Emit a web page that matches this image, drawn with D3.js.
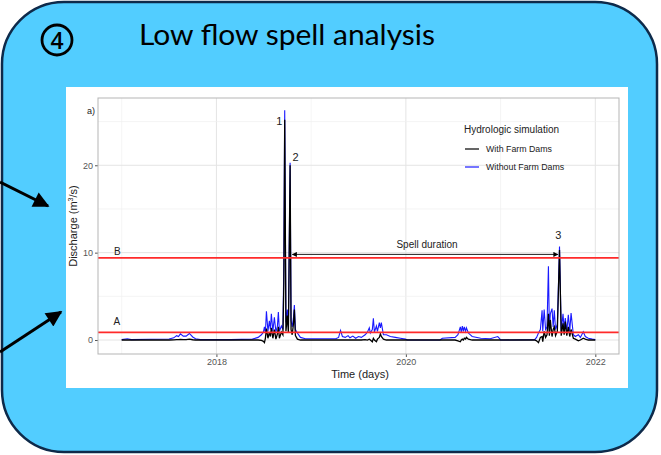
<!DOCTYPE html>
<html>
<head>
<meta charset="utf-8">
<script src="https://cdn.jsdelivr.net/npm/d3@7"></script>
<style>
  body { margin: 0; background: #fff; }
  svg text { font-family: "Liberation Sans", Arial, sans-serif; }
</style>
</head>
<body>
<svg width="661" height="455"></svg>
<script>
// decimal years
var years = [
    2017.00, 2017.06, 2017.10, 2017.30, 2017.50, 2017.55, 2017.58, 2017.60, 2017.62, 2017.65,
    2017.68, 2017.715, 2017.75, 2017.78, 2017.83, 2018.15, 2018.38, 2018.44, 2018.475, 2018.496,
    2018.507, 2018.517, 2018.528, 2018.544, 2018.559, 2018.570, 2018.580, 2018.596, 2018.612, 2018.628,
    2018.644, 2018.654, 2018.665, 2018.686, 2018.702, 2018.712, 2018.721, 2018.734, 2018.749, 2018.760,
    2018.778, 2018.788, 2018.800, 2018.813, 2018.823, 2018.834, 2018.855, 2018.887, 2018.939, 2019.10,
    2019.26, 2019.29, 2019.31, 2019.33, 2019.36, 2019.39, 2019.41, 2019.44, 2019.47, 2019.50,
    2019.53, 2019.57, 2019.594, 2019.614, 2019.625, 2019.646, 2019.657, 2019.668, 2019.689, 2019.700,
    2019.720, 2019.731, 2019.741, 2019.763, 2019.794, 2019.836, 2019.889, 2019.942, 2019.995, 2020.016,
    2020.36, 2020.385, 2020.52, 2020.55, 2020.575, 2020.585, 2020.596, 2020.607, 2020.617, 2020.630,
    2020.639, 2020.660, 2020.70, 2020.79, 2020.89, 2020.97, 2020.99, 2021.00, 2021.36, 2021.38,
    2021.40, 2021.42, 2021.438, 2021.445, 2021.460, 2021.475, 2021.490, 2021.505, 2021.515, 2021.525,
    2021.543, 2021.555, 2021.567, 2021.580, 2021.599, 2021.622, 2021.640, 2021.659, 2021.671, 2021.683,
    2021.699, 2021.715, 2021.730, 2021.744, 2021.768, 2021.789, 2021.821, 2021.842, 2021.873, 2021.894,
    2021.926, 2021.968, 2022.00
];

// discharge (m3/s) with farm dams
var withDams = [
    0.00, 0.00, 0.00, 0.00, 0.00, 0.02, 0.05, 0.05, 0.08, 0.05,
    0.05, 0.10, 0.03, 0.00, 0.00, 0.00, 0.00, 0.00, -0.05, -0.15,
    -0.30, 0.20, 1.30, 0.20, 0.90, 0.40, 1.40, 0.20, 1.20, 0.10,
    0.70, 1.50, 0.20, 0.90, 0.60, 6.50, 25.2, 1.00, 2.80, 0.80,
    20.0, 1.20, 0.60, 1.80, 3.50, 0.50, 0.10, 0.00, 0.00, 0.00,
    0.00, 0.00, 0.00, 0.00, 0.00, 0.00, 0.00, 0.00, 0.00, 0.00,
    0.00, 0.05, 0.00, 0.10, 0.00, -0.20, 0.20, 0.00, -0.20, 0.10,
    0.30, 0.70, 0.40, 0.10, 0.00, 0.00, 0.00, 0.00, 0.00, 0.00,
    0.00, 0.00, 0.00, -0.10, -0.20, 0.00, 0.10, 0.00, 0.20, 0.10,
    0.30, 0.10, 0.00, 0.00, 0.00, 0.00, 0.00, 0.00, 0.00, -0.10,
    -0.30, 0.30, 0.40, -0.20, 1.00, 0.30, 0.60, 3.00, 0.50, 2.30,
    0.40, 1.20, 1.50, 0.50, 1.00, 10.3, 0.50, 1.90, 0.60, 2.10,
    0.50, 1.50, 0.40, 1.20, 0.20, 0.10, -0.10, 0.00, 0.20, 0.10,
    0.00, 0.00, 0.00
];

// discharge (m3/s) without farm dams
var withoutDams = [
    0.05, 0.15, 0.05, 0.08, 0.12, 0.25, 0.50, 0.40, 0.70, 0.45,
    0.45, 0.75, 0.35, 0.15, 0.05, 0.05, 0.10, 0.30, 0.60, 0.90,
    1.50, 0.80, 3.30, 1.00, 2.20, 1.20, 3.00, 1.00, 2.60, 0.90,
    1.60, 3.20, 1.00, 1.60, 1.20, 8.90, 26.3, 2.00, 3.50, 1.50,
    20.3, 2.20, 1.50, 2.50, 4.00, 1.20, 0.80, 0.30, 0.15, 0.15,
    0.15, 0.30, 1.10, 0.40, 0.30, 0.50, 0.25, 0.45, 0.20, 0.40,
    0.30, 0.60, 0.90, 1.40, 0.80, 1.20, 2.50, 0.90, 1.60, 1.00,
    2.00, 1.40, 2.00, 0.60, 0.60, 0.40, 0.30, 0.20, 0.10, 0.00,
    0.00, 0.20, 0.30, 0.60, 1.50, 0.90, 1.60, 1.00, 1.50, 1.00,
    1.40, 0.80, 0.40, 0.20, 0.15, 0.40, 0.15, 0.00, 0.05, 0.30,
    0.80, 1.20, 3.40, 1.00, 3.50, 1.20, 1.50, 8.45, 1.00, 3.00,
    3.60, 1.50, 3.40, 1.20, 1.80, 10.7, 1.00, 3.00, 1.20, 2.50,
    1.00, 2.90, 1.00, 3.10, 0.60, 0.40, 0.60, 0.30, 0.95, 0.40,
    0.20, 0.10, 0.05
];

var thresholdA = 0.88,
    thresholdB = 9.4;

var xTicks = [2018, 2020, 2022],
    xMinor = [2017, 2019, 2021],
    yTicks = [0, 10, 20],
    yMinor = [5, 15, 25];

var peakLabels = [
    {text: "1", year: 2018.665, q: 25.1},
    {text: "2", year: 2018.836, q: 20.9},
    {text: "3", year: 2021.610, q: 12.0}
];

var spell = {start: 2018.802, end: 2021.605, q: 9.8};

var legendItems = [
    {name: "With Farm Dams", color: "#000"},
    {name: "Without Farm Dams", color: "#1a1aff"}
];

var svg = d3.select("svg");

// slide background
svg.append("rect")
    .attr("x", 2).attr("y", 2)
    .attr("width", 655).attr("height", 450)
    .attr("rx", 62).attr("ry", 62)
    .attr("fill", "#52cdff")
    .attr("stroke", "#0e2a4a")
    .attr("stroke-width", 2.5);

svg.append("circle")
    .attr("cx", 57).attr("cy", 40).attr("r", 15)
    .attr("fill", "none").attr("stroke", "#000").attr("stroke-width", 2.8);
svg.append("text")
    .attr("x", 57).attr("y", 48.5)
    .attr("text-anchor", "middle")
    .style("font-family", "'Open Sans', Lato, sans-serif")
    .style("font-size", "23px")
    .style("font-weight", "600")
    .text("4");

svg.append("text")
    .attr("x", 139).attr("y", 45)
    .attr("textLength", 296)
    .attr("lengthAdjust", "spacingAndGlyphs")
    .style("font-family", "Lato, 'Open Sans', sans-serif")
    .style("font-size", "28px")
    .attr("fill", "#000")
    .text("Low flow spell analysis");

// pointer arrows
var defs = svg.append("defs");
defs.append("marker")
    .attr("id", "bigHead")
    .attr("viewBox", "0 0 10 10")
    .attr("refX", 9).attr("refY", 5)
    .attr("markerUnits", "userSpaceOnUse")
    .attr("markerWidth", 18).attr("markerHeight", 16)
    .attr("orient", "auto")
    .append("path").attr("d", "M0,0L10,5L0,10Z").attr("fill", "#000");
defs.append("marker")
    .attr("id", "smallHead")
    .attr("viewBox", "0 0 10 10")
    .attr("refX", 9).attr("refY", 5)
    .attr("markerUnits", "userSpaceOnUse")
    .attr("markerWidth", 6).attr("markerHeight", 5)
    .attr("orient", "auto-start-reverse")
    .append("path").attr("d", "M0,0L10,5L0,10Z").attr("fill", "#000");

[[[0, 182], [48, 206]], [[0, 352], [61, 312]]].forEach(function(a) {
    svg.append("line")
        .attr("x1", a[0][0]).attr("y1", a[0][1])
        .attr("x2", a[1][0]).attr("y2", a[1][1])
        .attr("stroke", "#000").attr("stroke-width", 3)
        .attr("marker-end", "url(#bigHead)");
});

// white figure panel
svg.append("rect")
    .attr("x", 66).attr("y", 87)
    .attr("width", 562).attr("height", 301)
    .attr("fill", "#fff");

var x = d3.scaleLinear().domain([2016.75, 2022.25]).range([98, 619]),
    y = d3.scaleLinear().domain([-1.6, 27.7]).range([354, 98]);

var g = svg.append("g");

g.selectAll(".vgrid").data(xMinor.concat(xTicks)).enter().append("line")
    .attr("x1", function(d) { return x(d); }).attr("x2", function(d) { return x(d); })
    .attr("y1", y.range()[0]).attr("y2", y.range()[1])
    .attr("stroke", function(d) { return xTicks.indexOf(d) >= 0 ? "#e4e4e4" : "#f1f1f1"; })
    .attr("stroke-width", function(d) { return xTicks.indexOf(d) >= 0 ? 1 : 0.7; });

g.selectAll(".hgrid").data(yMinor.concat(yTicks)).enter().append("line")
    .attr("x1", x.range()[0]).attr("x2", x.range()[1])
    .attr("y1", function(d) { return y(d); }).attr("y2", function(d) { return y(d); })
    .attr("stroke", function(d) { return yTicks.indexOf(d) >= 0 ? "#e4e4e4" : "#f1f1f1"; })
    .attr("stroke-width", function(d) { return yTicks.indexOf(d) >= 0 ? 1 : 0.7; });

// axes
var xAxis = g.append("g")
    .attr("transform", "translate(0," + y.range()[0] + ")")
    .call(d3.axisBottom(x).tickValues(xTicks).tickFormat(d3.format("d")).tickSize(3).tickPadding(2));
var yAxis = g.append("g")
    .attr("transform", "translate(" + x.range()[0] + ",0)")
    .call(d3.axisLeft(y).tickValues(yTicks).tickSize(3).tickPadding(2));
[xAxis, yAxis].forEach(function(ax) {
    ax.select(".domain").remove();
    ax.selectAll("line").attr("stroke", "#555");
    ax.selectAll("text").attr("fill", "#555").style("font-size", "9px")
        .style("font-family", "'Liberation Sans', Arial, sans-serif");
});

var series = years.map(function(yr, i) {
    return {year: yr, withDams: withDams[i], withoutDams: withoutDams[i]};
});

var lineWithout = d3.line()
    .x(function(d) { return x(d.year); })
    .y(function(d) { return y(d.withoutDams); });
var lineWith = d3.line()
    .x(function(d) { return x(d.year); })
    .y(function(d) { return y(d.withDams); });

g.append("path").datum(series)
    .attr("d", lineWithout)
    .attr("fill", "none").attr("stroke", "#1a1aff").attr("stroke-width", 1.1);
g.append("path").datum(series)
    .attr("d", lineWith)
    .attr("fill", "none").attr("stroke", "#000").attr("stroke-width", 1.3);

// thresholds
g.selectAll(".thr").data([thresholdA, thresholdB]).enter().append("line")
    .attr("x1", x.range()[0]).attr("x2", x.range()[1])
    .attr("y1", function(d) { return y(d); }).attr("y2", function(d) { return y(d); })
    .attr("stroke", "#ff2a2a").attr("stroke-width", 1.6);

g.append("text").attr("x", x(2016.95)).attr("y", y(thresholdA) - 7)
    .attr("text-anchor", "middle").style("font-size", "10px").attr("fill", "#222").text("A");
g.append("text").attr("x", x(2016.955)).attr("y", y(thresholdB) - 3)
    .attr("text-anchor", "middle").style("font-size", "10px").attr("fill", "#222").text("B");

// spell duration arrow
g.append("line")
    .attr("x1", x(spell.start)).attr("x2", x(spell.end))
    .attr("y1", y(spell.q)).attr("y2", y(spell.q))
    .attr("stroke", "#222").attr("stroke-width", 1)
    .attr("marker-start", "url(#smallHead)")
    .attr("marker-end", "url(#smallHead)");
g.append("text")
    .attr("x", x((spell.start + spell.end) / 2 + 0.02)).attr("y", y(spell.q) - 6)
    .attr("text-anchor", "middle").style("font-size", "10px").attr("fill", "#222")
    .text("Spell duration");

g.selectAll(".peak").data(peakLabels).enter().append("text")
    .attr("x", function(d) { return x(d.year); })
    .attr("y", function(d) { return y(d.q) + 4; })
    .attr("text-anchor", "middle")
    .style("font-size", "11px").attr("fill", "#222")
    .text(function(d) { return d.text; });

// panel border
g.append("rect")
    .attr("x", x.range()[0]).attr("y", y.range()[1])
    .attr("width", x.range()[1] - x.range()[0])
    .attr("height", y.range()[0] - y.range()[1])
    .attr("fill", "none").attr("stroke", "#b5b5b5").attr("stroke-width", 1);

svg.append("text").attr("x", 91).attr("y", 114)
    .attr("text-anchor", "middle").style("font-size", "9px").attr("fill", "#222").text("a)");

svg.append("text").attr("x", 360).attr("y", 378)
    .attr("text-anchor", "middle").style("font-size", "11px").attr("fill", "#222")
    .text("Time (days)");

var yt = svg.append("text")
    .attr("transform", "translate(77,226) rotate(-90)")
    .attr("text-anchor", "middle").style("font-size", "11px").attr("fill", "#222");
yt.append("tspan").text("Discharge (m");
yt.append("tspan").attr("dy", -4).style("font-size", "7px").text("3");
yt.append("tspan").attr("dy", 4).text("/s)");

// legend
var lg = svg.append("g").attr("transform", "translate(464,0)");
lg.append("text").attr("x", 0).attr("y", 133)
    .style("font-size", "10px").attr("fill", "#222").text("Hydrologic simulation");
var li = lg.selectAll(".li").data(legendItems).enter().append("g")
    .attr("transform", function(d, i) { return "translate(0," + (149 + i * 18) + ")"; });
li.append("line").attr("x1", 1).attr("x2", 15)
    .attr("stroke", function(d) { return d.color; }).attr("stroke-width", 1.2);
li.append("text").attr("x", 22).attr("y", 3)
    .style("font-size", "8.8px").attr("fill", "#222")
    .text(function(d) { return d.name; });
</script>
</body>
</html>
